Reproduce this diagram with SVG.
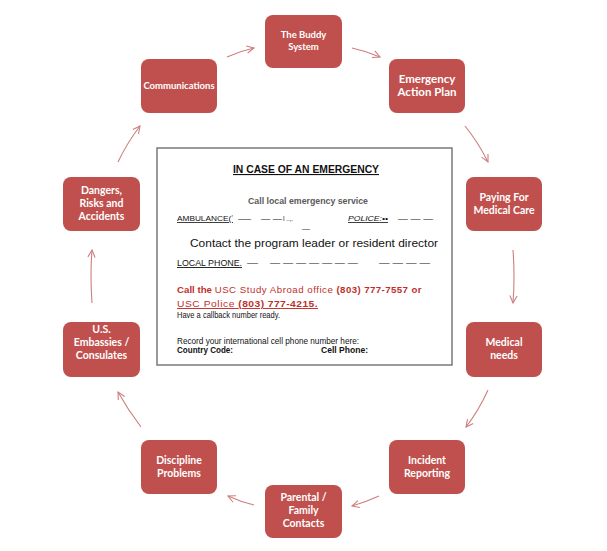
<svg xmlns="http://www.w3.org/2000/svg" width="607" height="551" viewBox="0 0 607 551">
<defs>
<style>
.node rect{fill:#c0504d;}
.node text{fill:#ffffff;font-family:Lato,"Open Sans","Liberation Sans",sans-serif;font-weight:bold;font-size:10.5px;text-anchor:middle;}
.conn path{fill:none;stroke:#cd7f7c;stroke-width:1.1;}
.t{font-family:"Liberation Sans",Arial,sans-serif;fill:#111;}
.red{fill:#c0302b;}
</style>
<marker id="ah" viewBox="0 0 10 10" refX="9" refY="5" markerWidth="9" markerHeight="9" markerUnits="userSpaceOnUse" orient="auto">
<path d="M1,1 L9,5 L1,9" fill="none" stroke="#cd7f7c" stroke-width="1.2"/>
</marker>
</defs>
<rect width="607" height="551" fill="#ffffff"/>

<g class="conn">
<path d="M227,57 Q240,51 254,48" marker-end="url(#ah)"/>
<path d="M352,48 Q366,51 380,57" marker-end="url(#ah)"/>
<path d="M465,126 Q478,142 488,162" marker-end="url(#ah)"/>
<path d="M513,250 Q515,276 513,303" marker-end="url(#ah)"/>
<path d="M488,390 Q479,410 466,427" marker-end="url(#ah)"/>
<path d="M379,496 Q366,502 352,506" marker-end="url(#ah)"/>
<path d="M254,505 Q241,502 228,496" marker-end="url(#ah)"/>
<path d="M141,427 Q128,410 118,392" marker-end="url(#ah)"/>
<path d="M92,303 Q90,276 92,250" marker-end="url(#ah)"/>
<path d="M118,162 Q127,143 140,126" marker-end="url(#ah)"/>
</g>

<g id="buddy" class="node"><rect x="265" y="15" width="77" height="53" rx="8"/><text x="303.5" y="38" style="font-size:9.5px">The Buddy</text><text x="303.5" y="50" style="font-size:9.5px">System</text></g>
<g id="comm" class="node"><rect x="141" y="59" width="76" height="54" rx="8"/><text x="179" y="89" style="font-size:9.5px">Communications</text></g>
<g id="eap" class="node"><rect x="389" y="59" width="76" height="54" rx="8"/><text x="427" y="83" style="font-size:11.5px">Emergency</text><text x="427" y="96" style="font-size:11.5px">Action Plan</text></g>
<g id="paying" class="node"><rect x="466" y="177" width="76" height="54" rx="8"/><text x="504" y="201">Paying For</text><text x="504" y="214">Medical Care</text></g>
<g id="medical" class="node"><rect x="466" y="322" width="76" height="55" rx="8"/><text x="504" y="346">Medical</text><text x="504" y="359">needs</text></g>
<g id="incident" class="node"><rect x="389" y="440" width="76" height="54" rx="8"/><text x="427" y="464">Incident</text><text x="427" y="477">Reporting</text></g>
<g id="parental" class="node"><rect x="265" y="485" width="77" height="53" rx="8"/><text x="303.5" y="501">Parental /</text><text x="303.5" y="514">Family</text><text x="303.5" y="527">Contacts</text></g>
<g id="discipline" class="node"><rect x="141" y="440" width="76" height="54" rx="8"/><text x="179" y="464">Discipline</text><text x="179" y="477">Problems</text></g>
<g id="embassies" class="node"><rect x="63" y="322" width="77" height="55" rx="8"/><text x="101.5" y="333">U.S.</text><text x="101.5" y="346">Embassies /</text><text x="101.5" y="359">Consulates</text></g>
<g id="dangers" class="node"><rect x="63" y="177" width="77" height="54" rx="8"/><text x="101.5" y="194">Dangers,</text><text x="101.5" y="207">Risks and</text><text x="101.5" y="220">Accidents</text></g>

<g id="emergency-box">
<rect x="157" y="148" width="295" height="217" fill="#ffffff" stroke="#7a7a7a" stroke-width="1.5"/>
<text class="t" x="233" y="173" font-size="11" font-weight="bold" text-decoration="underline" textLength="146" lengthAdjust="spacingAndGlyphs">IN CASE OF  AN  EMERGENCY</text>
<text class="t" x="248" y="204" font-size="9.5" font-weight="bold" style="fill:#5a5a5a" textLength="120" lengthAdjust="spacingAndGlyphs">Call local emergency  service</text>
<text class="t" x="177" y="221" font-size="8" text-decoration="underline" textLength="56" lengthAdjust="spacingAndGlyphs">AMBULANCE(ʼ</text>
<text class="t" x="238" y="221" font-size="8" textLength="13" lengthAdjust="spacingAndGlyphs">—</text>
<text class="t" x="261" y="221" font-size="8" textLength="21" lengthAdjust="spacingAndGlyphs">— —</text>
<text class="t" x="283" y="221" font-size="7" textLength="10" lengthAdjust="spacingAndGlyphs">I ..,.</text>
<text class="t" x="302" y="231" font-size="8" textLength="8" lengthAdjust="spacingAndGlyphs">—</text>
<text class="t" x="348" y="221" font-size="8" font-style="italic" text-decoration="underline" textLength="40" lengthAdjust="spacingAndGlyphs">POLICE:••</text>
<text class="t" x="398" y="221" font-size="8" textLength="35" lengthAdjust="spacingAndGlyphs">— — —</text>
<text class="t" x="190" y="247" font-size="10.5" textLength="248" lengthAdjust="spacingAndGlyphs">Contact the program leader or resident director</text>
<text class="t" x="177" y="266" font-size="9" text-decoration="underline" textLength="65" lengthAdjust="spacingAndGlyphs">LOCAL PHONE.</text>
<text class="t" x="247" y="266" font-size="9" textLength="11" lengthAdjust="spacingAndGlyphs">—</text>
<text class="t" x="270" y="266" font-size="9" textLength="88" lengthAdjust="spacingAndGlyphs">— — — — — — —</text>
<text class="t" x="379" y="266" font-size="9" textLength="51" lengthAdjust="spacingAndGlyphs">— — — —</text>
<text class="t red" x="177" y="293" font-size="9.5" textLength="245" lengthAdjust="spacingAndGlyphs"><tspan font-weight="bold">Call the </tspan><tspan letter-spacing="0.5">USC Study Abroad office </tspan><tspan font-weight="bold" letter-spacing="0.4">(803)  777-7557  or</tspan></text>
<text class="t red" x="177" y="307" font-size="9.5" text-decoration="underline" textLength="141" lengthAdjust="spacingAndGlyphs"><tspan letter-spacing="0.5">USC Police  </tspan><tspan font-weight="bold" letter-spacing="0.4">(803)  777-4215.</tspan></text>
<text class="t" x="177" y="318" font-size="8.5" textLength="103" lengthAdjust="spacingAndGlyphs">Have a callback number ready.</text>
<text class="t" x="177" y="344" font-size="8.5" textLength="182" lengthAdjust="spacingAndGlyphs">Record your international cell phone number here:</text>
<text class="t" x="177" y="353" font-size="8.5" font-weight="bold" textLength="56" lengthAdjust="spacingAndGlyphs">Country Code:</text>
<text class="t" x="321" y="353" font-size="8.5" font-weight="bold" textLength="47" lengthAdjust="spacingAndGlyphs">Cell Phone:</text>
</g>
</svg>
